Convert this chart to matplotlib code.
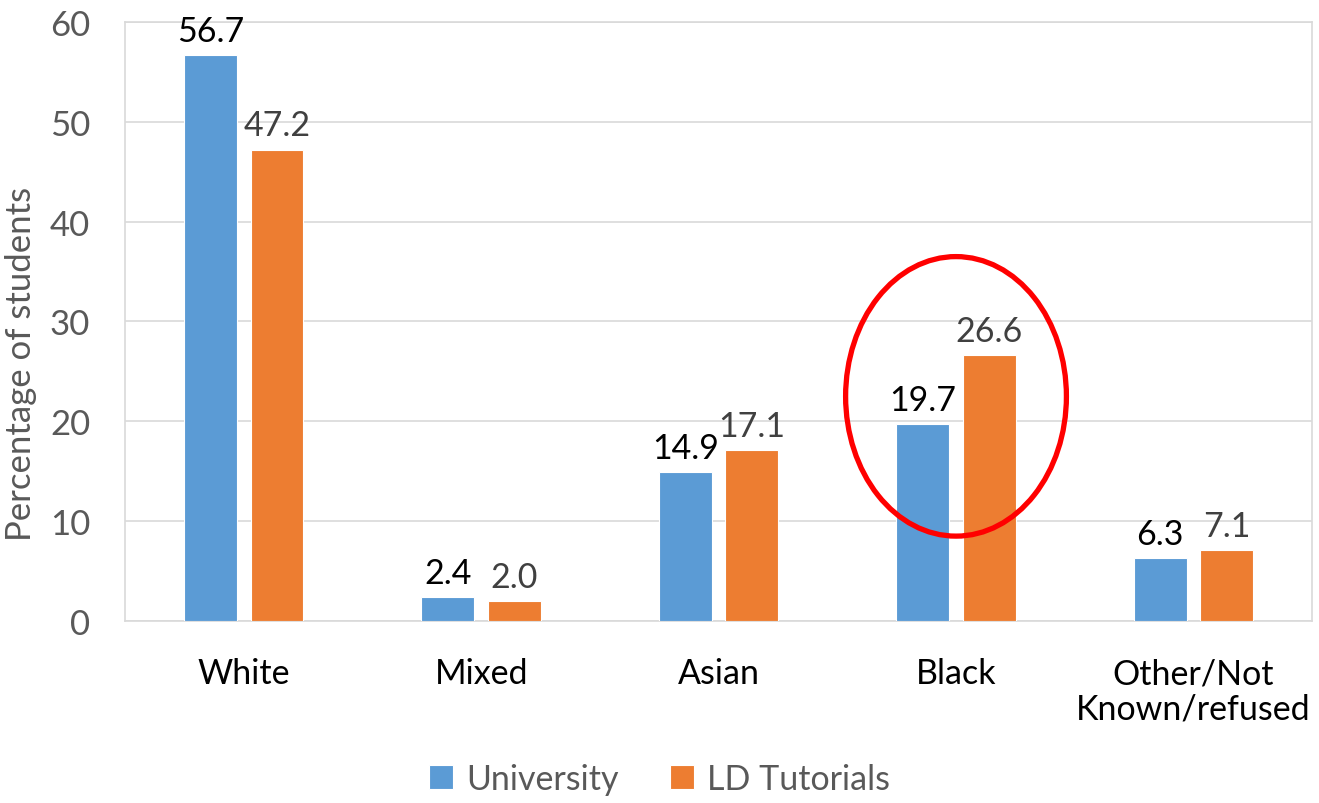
#!/usr/bin/env python3
"""
Ethnicity of students: university vs LD tutorials
"""

import numpy as np
import matplotlib
matplotlib.use("Agg")
import matplotlib.pyplot as plt
from matplotlib.patches import Ellipse

# Data
categories = ["White", "Mixed", "Asian", "Black", "Other/Not\nKnown/refused"]
university = [56.7, 2.4, 14.9, 19.7, 6.3]
ld_tutorials = [47.2, 2.0, 17.1, 26.6, 7.1]
y_ticks = [0, 10, 20, 30, 40, 50, 60]

plt.rcParams["font.family"] = ["Lato", "DejaVu Sans"]

fig = plt.figure(figsize=(13.19, 8.04), dpi=100)
ax = fig.add_axes([0.0948, 0.2264, 0.9, 0.745])

x = np.arange(len(categories))
width = 0.223
offset = 0.14

bars_u = ax.bar(x - offset, university, width, color="#5B9BD5",
                edgecolor="white", linewidth=0.8, label="University", zorder=3)
bars_l = ax.bar(x + offset, ld_tutorials, width, color="#ED7D31",
                edgecolor="white", linewidth=0.8, label="LD Tutorials", zorder=3)

# Value labels above the bars
for bar, val in zip(bars_u, university):
    ax.annotate(f"{val:.1f}", (bar.get_x() + bar.get_width() / 2, val),
                xytext=(0, 6), textcoords="offset points",
                ha="center", va="bottom", fontsize=24.5, color="black")
for bar, val in zip(bars_l, ld_tutorials):
    ax.annotate(f"{val:.1f}", (bar.get_x() + bar.get_width() / 2, val),
                xytext=(0, 6), textcoords="offset points",
                ha="center", va="bottom", fontsize=24.5, color="#404040")

ax.set_xlim(-0.5, len(categories) - 0.5)
ax.set_ylim(0, 60)
ax.set_yticks(y_ticks)
ax.tick_params(axis="y", length=0, pad=25, labelsize=25, labelcolor="#595959")
ax.set_xticks(x)
ax.set_xticklabels(categories, fontsize=24.5, color="black", linespacing=1.15)
ax.tick_params(axis="x", length=0, pad=26)
ax.grid(axis="y", color="#D9D9D9", linewidth=1.2, zorder=0)
for spine in ax.spines.values():
    spine.set_color("#D9D9D9")
    spine.set_linewidth(1.2)

ax.set_ylabel("Percentage of students", fontsize=25, color="#595959")
ax.yaxis.set_label_coords(-0.074, 0.43)

# Highlight the Black category
ax.add_patch(Ellipse((3.0, 22.5), 0.93, 28.0, fill=False,
                     edgecolor="red", linewidth=3.8, zorder=5, clip_on=False))

fig.legend(loc="center", bbox_to_anchor=(0.5, 0.03), ncol=2, frameon=False,
           fontsize=24.5, labelcolor="#595959", handlelength=0.7, handleheight=0.7,
           columnspacing=1.5, handletextpad=0.4)

fig.savefig("out.png", dpi=100)
